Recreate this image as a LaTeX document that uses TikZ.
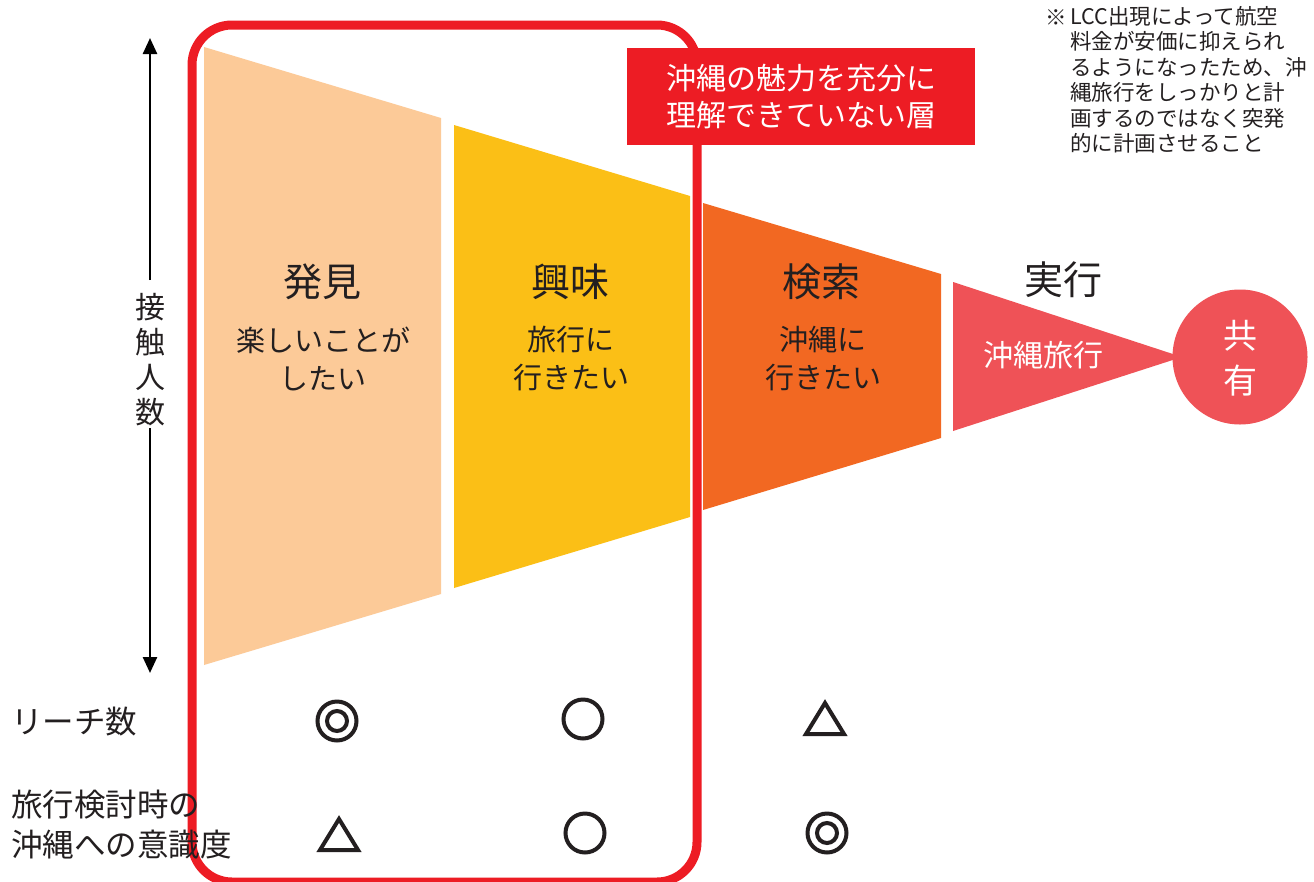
\documentclass[tikz,border=0pt]{standalone}
\usepackage{fontspec}
\setmainfont{Noto Sans CJK JP}
\usetikzlibrary{arrows.meta}
\definecolor{peach}{HTML}{FCCA98}
\definecolor{yel}{HTML}{FBBF16}
\definecolor{org}{HTML}{F26822}
\definecolor{pinkred}{HTML}{EF5257}
\definecolor{boxred}{HTML}{ED1C24}
\definecolor{ink}{HTML}{231F20}
\begin{document}
\begin{tikzpicture}[x=1pt,y=-1pt,
  stagetitle/.style={font=\fontsize{39}{44}\selectfont, text=ink, inner sep=0},
  subtext/.style={font=\fontsize{29}{38}\selectfont, text=ink, align=center, inner sep=0},
  rowlabel/.style={font=\fontsize{31.5}{40}\selectfont, text=ink, align=left, inner sep=0, anchor=west},
  ring/.style={circle, draw=ink, line width=4, inner sep=0},
  tri/.style={draw=ink, line width=4, line join=miter},
  axisarrow/.style={line width=2.5, draw=black, -{Triangle[width=14,length=16]}}]
\useasboundingbox (0,0) rectangle (1314,881);
\fill[white] (0,0) rectangle (1314,881);

% funnel
\fill[peach] (204,47) -- (441,118) -- (441,594) -- (204,665) -- cycle;
\fill[yel] (454,125) -- (690,196) -- (690,517) -- (454,588) -- cycle;
\fill[org] (703,203) -- (941,274) -- (941,438) -- (703,510) -- cycle;
\fill[pinkred] (953,282) -- (1182,357) -- (953,431) -- cycle;
\node[circle, fill=pinkred, minimum size=135, inner sep=0] (share) at (1240,357) {};
\node[font=\fontsize{34}{45}\selectfont, text=white, align=center, inner sep=0] (sharetext) at (1240,358) {共\\有};

% stage texts
\node[stagetitle] (t1) at (322,282) {発見};
\node[stagetitle] (t2) at (570,282) {興味};
\node[stagetitle] (t3) at (821,282) {検索};
\node[stagetitle] (t4) at (1063,280) {実行};
\node[subtext] (s1) at (323,359) {楽しいことが\\したい};
\node[subtext] (s2) at (571,359) {旅行に\\行きたい};
\node[subtext] (s3) at (823,359) {沖縄に\\行きたい};
\node[subtext, text=white, font=\fontsize{30}{38}\selectfont] (s4) at (1043,355) {沖縄旅行};

% red frame
\draw[boxred, line width=9, rounded corners=40] (192,25) rectangle (697,882);
\node[fill=boxred, text=white, minimum width=348, minimum height=97, inner sep=0,
      font=\fontsize{30}{37}\selectfont, align=center] (label) at (801,96.5)
      {沖縄の魅力を充分に\\理解できていない層};

% note
\node[font=\fontsize{21.5}{25}\selectfont, text=ink, inner sep=0, anchor=west] (mark) at (1045,18) {※};
\node[font=\fontsize{21.5}{25.5}\selectfont, text=ink, inner sep=0, anchor=north west, align=left] (note) at (1070,6)
  {LCC出現によって航空\\料金が安価に抑えられ\\るようになったため、沖\\縄旅行をしっかりと計\\画するのではなく突発\\的に計画させること};

% axis
\node[font=\fontsize{30}{35}\selectfont, text=ink, align=center, inner sep=0] (axis) at (150,360) {接\\触\\人\\数};
\coordinate (axtop) at (150,38);
\coordinate (axbot) at (150,673);
\coordinate (axa) at (150,280);
\coordinate (axb) at (150,428);
\draw[axisarrow] (axa) -- (axtop);
\draw[axisarrow] (axb) -- (axbot);

% row labels
\node[rowlabel] (row1) at (11,722) {リーチ数};
\node[rowlabel] (row2) at (11,825) {旅行検討時の\\沖縄への意識度};

% symbols row 1
\node[ring, minimum size=39] (a1) at (337,721) {};
\node[ring, minimum size=20] (a1i) at (337,721) {};
\node[ring, minimum size=39] (b1) at (583,719) {};
\draw[tri] (825,703) -- (844,734) -- (806,734) -- cycle;
% symbols row 2
\draw[tri] (339,819) -- (358,850) -- (320,850) -- cycle;
\node[ring, minimum size=39] (b2) at (585,833) {};
\node[ring, minimum size=39] (c2) at (827,833) {};
\node[ring, minimum size=20] (c2i) at (827,833) {};
\end{tikzpicture}
\end{document}
